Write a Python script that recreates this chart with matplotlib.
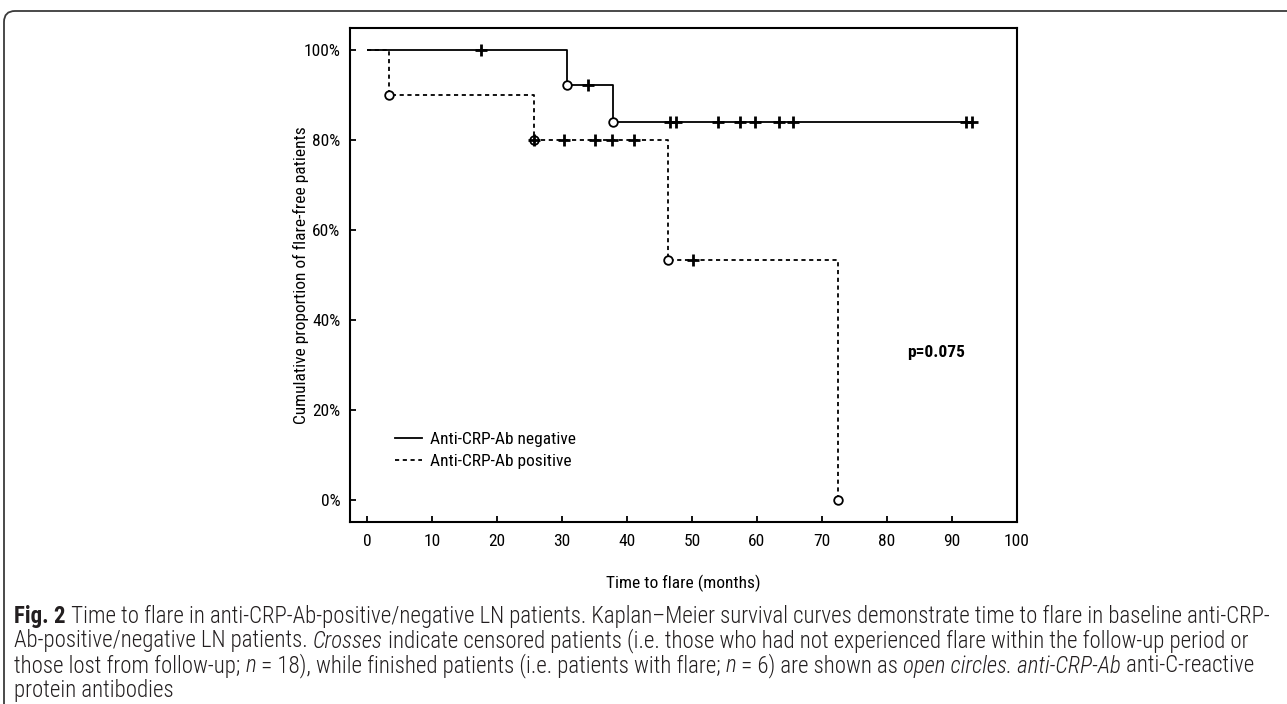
import matplotlib
matplotlib.use("Agg")
import matplotlib.pyplot as plt
from matplotlib import font_manager
from matplotlib.patches import FancyBboxPatch
from matplotlib.transforms import IdentityTransform
from matplotlib.lines import Line2D

# ---------------- data ----------------
neg_step_t = [0, 30.8, 37.9, 93.1]
neg_step_s = [100, 92.3, 83.9, 83.9]
neg_event_t = [30.8, 37.9]
neg_event_s = [92.3, 83.9]
neg_cens_t = [17.5, 34.0, 46.6, 47.5, 54.0, 57.4, 59.7, 63.4, 65.5, 92.2, 93.1]
neg_cens_s = [100, 92.3, 83.9, 83.9, 83.9, 83.9, 83.9, 83.9, 83.9, 83.9, 83.9]

pos_step_t = [0, 3.4, 25.7, 46.3, 72.5]
pos_step_s = [100, 90, 80, 53.3, 0]
pos_event_t = [3.4, 25.7, 46.3, 72.5]
pos_event_s = [90, 80, 53.3, 0]
pos_cens_t = [25.7, 30.3, 35.1, 37.7, 41.1, 50.2]
pos_cens_s = [80, 80, 80, 80, 80, 53.3]

x_ticks = [0, 10, 20, 30, 40, 50, 60, 70, 80, 90, 100]
y_ticks = [0, 20, 40, 60, 80, 100]
y_tick_labels = ["0%", "20%", "40%", "60%", "80%", "100%"]
legend_labels = ["Anti-CRP-Ab negative", "Anti-CRP-Ab positive"]
x_label = "Time to flare (months)"
y_label = "Cumulative proportion of flare-free patients"
p_text = "p=0.075"

caption_lines = [
    [("Fig. 2", "bold"), (" Time to flare in anti-CRP-Ab-positive/negative LN patients. Kaplan\u2013Meier survival curves demonstrate time to flare in baseline anti-CRP-", "normal")],
    [("Ab-positive/negative LN patients. ", "normal"), ("Crosses", "italic"), (" indicate censored patients (i.e. those who had not experienced flare within the follow-up period or", "normal")],
    [("those lost from follow-up; ", "normal"), ("n", "italic"), (" = 18), while finished patients (i.e. patients with flare; ", "normal"), ("n", "italic"), (" = 6) are shown as ", "normal"), ("open circles. anti-CRP-Ab", "italic"), (" anti-C-reactive", "normal")],
    [("protein antibodies", "normal")],
]


def pick_font(cands):
    for c in cands:
        try:
            font_manager.findfont(font_manager.FontProperties(family=c), fallback_to_default=False)
            return c
        except Exception:
            continue
    return "DejaVu Sans"


chart_font = pick_font(["Roboto Condensed", "Liberation Sans Narrow", "Liberation Sans"])
cap_font = pick_font(["Roboto Condensed", "Liberation Sans Narrow", "Roboto"])

W, H = 1287, 704
fig = plt.figure(figsize=(W / 100, H / 100), dpi=100)
fig.patch.set_facecolor("white")

# axes box in pixels: left 350, right 1017, top 28, bottom 522
L, R, T, B = 350, 1017, 28, 522
ax = fig.add_axes([L / W, 1 - B / H, (R - L) / W, (B - T) / H])

lw = 1.3
ax.step(neg_step_t, neg_step_s, where="post", color="black", lw=lw, solid_capstyle="butt")
ax.step(pos_step_t, pos_step_s, where="post", color="black", lw=lw, dashes=(2.3, 2.0))
ax.plot(neg_event_t, neg_event_s, "o", ms=6.2, mfc="white", mec="black", mew=1.3, ls="none")
ax.plot(pos_event_t, pos_event_s, "o", ms=6.2, mfc="white", mec="black", mew=1.3, ls="none")
ax.plot(neg_cens_t, neg_cens_s, "+", ms=8, mec="black", mew=2.0, ls="none")
ax.plot(pos_cens_t, pos_cens_s, "+", ms=8, mec="black", mew=2.0, ls="none")

fs = 12.5
ax.set_xlim(-2.6, 100)
ax.set_ylim(-4.9, 104.9)
ax.set_xticks(x_ticks)
ax.set_yticks(y_ticks)
ax.set_yticklabels(y_tick_labels)
for sp in ax.spines.values():
    sp.set_linewidth(1.5)
ax.tick_params(direction="in", length=4, width=1.3, labelsize=fs, colors="black")
ax.tick_params(axis="x", pad=9)
ax.tick_params(axis="y", pad=7)
for lab in ax.get_xticklabels() + ax.get_yticklabels():
    lab.set_fontfamily(chart_font)
ax.set_xlabel(x_label, fontsize=fs, family=chart_font, labelpad=18)
ax.set_ylabel(y_label, fontsize=fs, family=chart_font)
ax.yaxis.set_label_coords((309 - L) / (R - L), 0.5)

handles = [Line2D([], [], color="black", lw=lw),
           Line2D([], [], color="black", lw=lw, dashes=(2.3, 2.0))]
ax.legend(handles, legend_labels, loc="upper left", bbox_to_anchor=(0.057, 0.196),
          frameon=False, prop={"family": chart_font, "size": fs}, handlelength=1.55,
          handletextpad=0.46, labelspacing=0.36, borderaxespad=0)

ax.text(0.835, 0.344, p_text, transform=ax.transAxes, fontsize=fs, fontweight="bold",
        family=chart_font, ha="left", va="center")

# border frame
frame = FancyBboxPatch((4, -20), 1400, H - 11 + 20, boxstyle="round,pad=0,rounding_size=11",
                       transform=IdentityTransform(), fill=False, lw=1.3, ec="#3a3a3a")
fig.patches.append(frame)

# caption
fig.canvas.draw()
renderer = fig.canvas.get_renderer()


def mk(x, y, txt, style, size):
    return fig.text(x, y, txt, fontsize=size, family=cap_font,
                    fontweight="bold" if style == "bold" else "light",
                    fontstyle="italic" if style == "italic" else "normal",
                    va="center", ha="left", color="#231f20")


def line_width(runs, size):
    total = 0
    for txt, style in runs:
        t = mk(0, 0, txt, style, size)
        total += t.get_window_extent(renderer).width
        t.remove()
    return total


base = 10
wid = line_width(caption_lines[0], base)
cap_size = base * (1272 - 14) / wid

x0 = 14
line_y = [616, 641, 666, 690]
for runs, yy in zip(caption_lines, line_y):
    x = x0
    for txt, style in runs:
        t = mk(x / W, 1 - yy / H, txt, style, cap_size)
        x += t.get_window_extent(renderer).width

fig.savefig("out.png", dpi=100)
